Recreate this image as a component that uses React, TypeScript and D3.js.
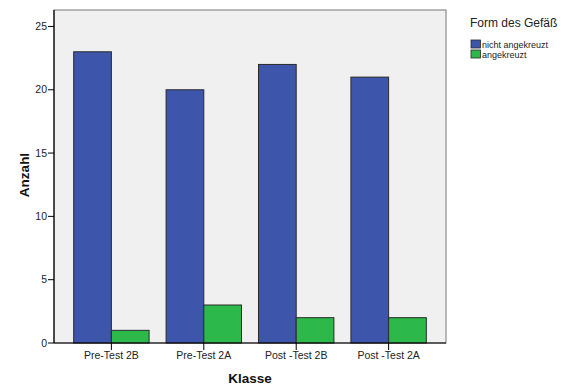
import React from "react";
import * as d3 from "d3";

const categories = ["Pre-Test 2B", "Pre-Test 2A", "Post -Test 2B", "Post -Test 2A"];
const seriesNames = ["nicht angekreuzt", "angekreuzt"];
const nichtAngekreuzt = [23, 20, 22, 21];
const angekreuzt = [1, 3, 2, 2];
const yTicks = [0, 5, 10, 15, 20, 25];
const colors = ["#3d55aa", "#2db84a"];

const W = 577, H = 387;
const left = 54, right = 446, top = 10, bottom = 343;

export default function App() {
  const x = d3.scaleBand<string>().domain(categories).range([left, right]).paddingInner(0.184).paddingOuter(0.213);
  const x1 = d3.scaleBand<string>().domain(seriesNames).range([0, x.bandwidth()]);
  const y = d3.scaleLinear().domain([0, 26.3]).range([bottom, top]);
  const series = [nichtAngekreuzt, angekreuzt];
  const font = "Arial, 'Liberation Sans', sans-serif";
  return (
    <svg width={W} height={H} style={{ position: "absolute", left: 0, top: 0 }} fontFamily={font}>
      <rect x={0} y={0} width={W} height={H} fill="#fff" />
      <rect x={left} y={top} width={right - left} height={bottom - top} fill="#f0f0f0" stroke="#8c8c8c" strokeWidth={1.2} />
      {categories.map((c, i) =>
        series.map((s, j) => (
          <rect key={c + j} x={(x(c) as number) + (x1(seriesNames[j]) as number)} y={y(s[i])}
            width={x1.bandwidth()} height={bottom - y(s[i])} fill={colors[j]} stroke="#2a2a2a" strokeWidth={1} />
        ))
      )}
      <line x1={left} x2={left} y1={top} y2={bottom} stroke="#000" strokeWidth={1.2} />
      <line x1={left} x2={right} y1={bottom} y2={bottom} stroke="#000" strokeWidth={1.2} />
      {yTicks.map(t => (
        <g key={t}>
          <line x1={left - 6} x2={left} y1={y(t)} y2={y(t)} stroke="#000" />
          <text x={left - 7} y={y(t)} dy="0.35em" textAnchor="end" fontSize={10.5} fill="#222">{t}</text>
        </g>
      ))}
      {categories.map(c => {
        const cx = (x(c) as number) + x.bandwidth() / 2;
        return (
          <g key={c}>
            <line x1={cx} x2={cx} y1={bottom} y2={bottom + 7} stroke="#000" />
            <text x={cx} y={bottom + 16} textAnchor="middle" fontSize={10.5} fill="#222">{c}</text>
          </g>
        );
      })}
      <text x={(left + right) / 2} y={383} textAnchor="middle" fontSize={13.5} fontWeight="bold" fill="#111">Klasse</text>
      <text transform={`translate(29,175) rotate(-90)`} textAnchor="middle" fontSize={13.5} fontWeight="bold" fill="#111">Anzahl</text>
      <text x={470} y={27} fontSize={12} fill="#222">Form des Gefäß</text>
      {seriesNames.map((n, j) => (
        <g key={n}>
          <rect x={471} y={40 + j * 10} width={9.5} height={8} fill={colors[j]} stroke="#2a2a2a" strokeWidth={0.8} />
          <text x={482} y={47.5 + j * 10} fontSize={9} fill="#222">{n}</text>
        </g>
      ))}
    </svg>
  );
}
